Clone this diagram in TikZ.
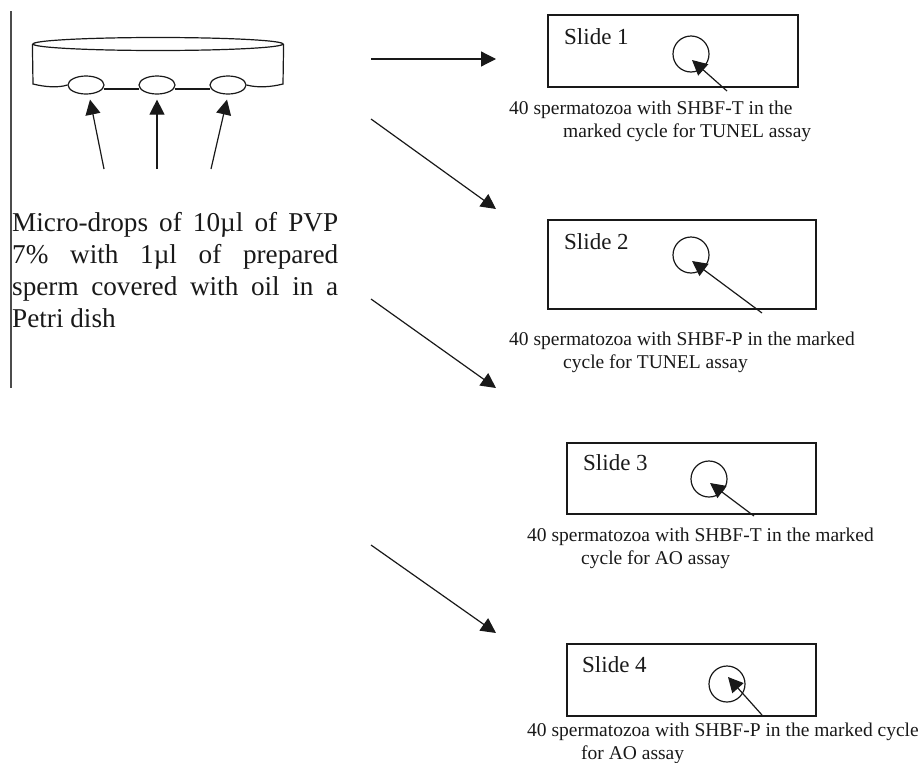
\documentclass[tikz,border=0pt]{standalone}
\usepackage{fontspec}
\setmainfont{Liberation Serif}
\usetikzlibrary{arrows.meta,shapes.geometric}
\tikzset{
  line/.style={draw=black!90,line width=1.2pt},
  bigarrow/.style={line,-{Triangle[length=15pt,width=15pt]}},
  smallarrow/.style={line,-{Triangle[length=15pt,width=15pt]}},
  slidebox/.style={draw=black!90,line width=1.5pt,rectangle,inner sep=0pt},
  mark circle/.style={draw=black!90,line width=1.2pt,circle,inner sep=0pt,minimum size=36pt},
  drop/.style={draw=black!90,line width=1.2pt,ellipse,inner sep=0pt,minimum width=36pt,minimum height=18pt},
  slidetitle/.style={inner sep=0pt,anchor=west,font=\fontsize{23}{26}\selectfont,text=black!90},
  caption text/.style={inner sep=0pt,anchor=north west,align=left,font=\fontsize{19.5}{22.5}\selectfont,text=black!90},
}
\begin{document}
\begin{tikzpicture}[x=1pt,y=-1pt]
\useasboundingbox (0,0) rectangle (921,763);
% margin rule
\coordinate (ruleA) at (11,11);
\coordinate (ruleB) at (11,388);
\draw[draw=black!70,line width=1.2pt] (ruleA) -- (ruleB);
% dish
\node[drop] (d1) at (86,85) {};
\node[drop] (d2) at (157,85) {};
\node[drop] (d3) at (228,85) {};
\node[draw=black!90,line width=1.2pt,ellipse,inner sep=0pt,minimum width=250pt,minimum height=13pt] (rim) at (158,44) {};
\draw[line] (rim.west) -- (33,84) .. controls (45,87) and (58,88) .. (d1.west);
\draw[line] (rim.east) -- (283,84) .. controls (271,87) and (258,88) .. (d3.east);
\draw[line] ([yshift=-4pt,xshift=-1pt]d1.east) -- ([yshift=-4pt,xshift=1pt]d2.west);
\draw[line] ([yshift=-4pt,xshift=-1pt]d2.east) -- ([yshift=-4pt,xshift=1pt]d3.west);
% drop arrows
\coordinate (a1) at (104,169);
\coordinate (a2) at (157,169);
\coordinate (a3) at (211,169);
\draw[bigarrow] (a1) -- ([xshift=4pt,yshift=-5pt]d1.south);
\draw[bigarrow] (a2) -- ([yshift=-5pt]d2.south);
\draw[bigarrow] (a3) -- ([xshift=-1pt,yshift=-5pt]d3.south);
% main text
\node[inner sep=0pt,anchor=north west,align=left,font=\fontsize{27.2}{32}\selectfont,text=black!90] (maintext) at (12,212) {%
\makebox[326pt][s]{Micro-drops of 10µl of PVP}\\
\makebox[326pt][s]{7\% with 1µl of prepared}\\
\makebox[326pt][s]{sperm covered with oil in a}\\
Petri dish};
% slides
\node[slidebox,minimum width=250pt,minimum height=72pt] (s1) at (673,51) {};
\node[slidebox,minimum width=268pt,minimum height=89pt] (s2) at (682,264.5) {};
\node[slidebox,minimum width=249pt,minimum height=71pt] (s3) at (691.5,478.5) {};
\node[slidebox,minimum width=249pt,minimum height=72pt] (s4) at (691.5,680) {};
\node[slidetitle] (t1) at (564,37) {Slide 1};
\node[slidetitle] (t2) at (564,242) {Slide 2};
\node[slidetitle] (t3) at (583,463) {Slide 3};
\node[slidetitle] (t4) at (582,665) {Slide 4};
\node[mark circle] (c1) at (691,54) {};
\node[mark circle] (c2) at (691,255) {};
\node[mark circle] (c3) at (709,479) {};
\node[mark circle] (c4) at (727,684) {};
\coordinate (p1) at (727,91);
\coordinate (p2) at (762,313);
\coordinate (p3) at (754,516);
\coordinate (p4) at (762,715);
\coordinate (q1) at (692,60);
\coordinate (q2) at (692,261);
\coordinate (q3) at (710,483);
\coordinate (q4) at (728,677);
\draw[smallarrow] (p1) -- (q1);
\draw[smallarrow] (p2) -- (q2);
\draw[smallarrow] (p3) -- (q3);
\draw[smallarrow] (p4) -- (q4);
% captions
\node[caption text] (l1) at (509,101) {40 spermatozoa with SHBF-T in the\\\hspace*{54pt}marked cycle for TUNEL assay};
\node[caption text] (l2) at (509,332) {40 spermatozoa with SHBF-P in the marked\\\hspace*{54pt}cycle for TUNEL assay};
\node[caption text] (l3) at (527,528) {40 spermatozoa with SHBF-T in the marked\\\hspace*{54pt}cycle for AO assay};
\node[caption text] (l4) at (527,723) {40 spermatozoa with SHBF-P in the marked cycle\\\hspace*{54pt}for AO assay};
% flow arrows
\coordinate (f1) at (371,59);
\coordinate (g1) at (496,59);
\coordinate (f2) at (371,119);
\coordinate (g2) at (496,209);
\coordinate (f3) at (371,299);
\coordinate (g3) at (496,388);
\coordinate (f4) at (371,545);
\coordinate (g4) at (496,633);
\draw[bigarrow] (f1) -- (g1);
\draw[bigarrow] (f2) -- (g2);
\draw[bigarrow] (f3) -- (g3);
\draw[bigarrow] (f4) -- (g4);
\end{tikzpicture}
\end{document}
